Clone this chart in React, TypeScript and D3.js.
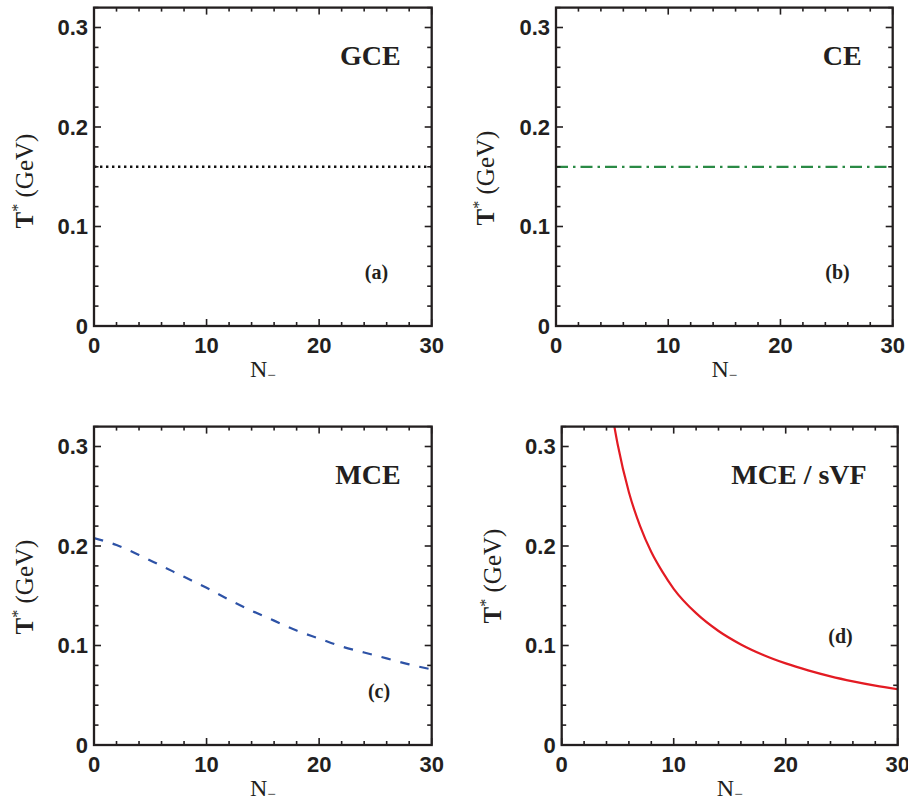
import React from "react";
import * as d3 from "d3";

// ---- data ----
const xTickValues = [0, 10, 20, 30];
const yTickValues = [0, 0.1, 0.2, 0.3];
const xTickLabels = ["0", "10", "20", "30"];
const yTickLabels = ["0", "0.1", "0.2", "0.3"];

const nGCE = [0, 30];
const tGCE = [0.16, 0.16];

const nCE = [0, 30];
const tCE = [0.16, 0.16];

const nMCE = [0, 2, 4, 6, 8, 10, 12, 14, 16, 18, 20, 22, 24, 26, 28, 30];
const tMCE = [0.208, 0.201, 0.191, 0.18, 0.169, 0.158, 0.146, 0.135, 0.125, 0.115, 0.107, 0.099, 0.093, 0.087, 0.081, 0.076];

const nSVF = [4.5, 5, 6, 7, 8, 9, 10, 12, 14, 16, 18, 20, 22, 24, 26, 28, 30];
const tSVF = [0.333, 0.302, 0.254, 0.22, 0.194, 0.174, 0.157, 0.1325, 0.1146, 0.1011, 0.0905, 0.082, 0.075, 0.069, 0.064, 0.0597, 0.056];

const titles = ["GCE", "CE", "MCE", "MCE / sVF"];
const tags = ["(a)", "(b)", "(c)", "(d)"];

type PanelCfg = {
  id: string;
  left: number;
  right: number;
  top: number;
  bottom: number;
  title: string;
  tag: string;
  tagX: number;
  tagY: number;
  ylabX: number;
  ylabY: number;
  xs: number[];
  ys: number[];
  color: string;
  dash: string;
  width: number;
  cap: string;
};

const FRAME = "#231f20";

function Panel({ c }: { c: PanelCfg }) {
  const x = d3.scaleLinear().domain([0, 30]).range([c.left, c.right]);
  const y = d3.scaleLinear().domain([0, 0.32]).range([c.bottom, c.top]);
  const pts = c.xs.map((v, i) => [v, c.ys[i]] as [number, number]);
  const line = d3
    .line<[number, number]>()
    .x((d) => x(d[0]))
    .y((d) => y(d[1]))
    .curve(d3.curveMonotoneX);
  const xMinor = d3.range(0, 30.001, 2);
  const yMinor = d3.range(0, 0.3201, 0.02);
  const isMajX = (v: number) => Math.round(v) % 10 === 0;
  const isMajY = (v: number) => Math.round(v * 100) % 10 === 0;
  const midX = (c.left + c.right) / 2;
  return (
    <g>
      <defs>
        <clipPath id={"clip-" + c.id}>
          <rect x={c.left} y={c.top} width={c.right - c.left} height={c.bottom - c.top} />
        </clipPath>
      </defs>
      <path
        d={line(pts) || ""}
        fill="none"
        stroke={c.color}
        strokeWidth={c.width}
        strokeDasharray={c.dash}
        strokeLinecap={c.cap as any}
        clipPath={`url(#clip-${c.id})`}
      />
      {/* ticks */}
      {xMinor.map((v, i) => {
        const L = isMajX(v) ? 7 : 4;
        return (
          <g key={"xt" + i}>
            <line x1={x(v)} x2={x(v)} y1={c.bottom} y2={c.bottom - L} stroke={FRAME} strokeWidth={1.6} />
            <line x1={x(v)} x2={x(v)} y1={c.top} y2={c.top + L} stroke={FRAME} strokeWidth={1.6} />
          </g>
        );
      })}
      {yMinor.map((v, i) => {
        const L = isMajY(v) ? 7 : 4.5;
        return (
          <g key={"yt" + i}>
            <line x1={c.left} x2={c.left + L} y1={y(v)} y2={y(v)} stroke={FRAME} strokeWidth={1.6} />
            <line x1={c.right} x2={c.right - L} y1={y(v)} y2={y(v)} stroke={FRAME} strokeWidth={1.6} />
          </g>
        );
      })}
      <rect
        x={c.left}
        y={c.top}
        width={c.right - c.left}
        height={c.bottom - c.top}
        fill="none"
        stroke={FRAME}
        strokeWidth={2.3}
      />
      {/* tick labels */}
      {xTickValues.map((v, i) => (
        <text
          key={"xl" + i}
          x={x(v)}
          y={c.bottom + 27}
          textAnchor="middle"
          fontFamily="'Liberation Sans', Arial, sans-serif"
          fontWeight="bold"
          fontSize={22}
          fill={FRAME}
        >
          {xTickLabels[i]}
        </text>
      ))}
      {yTickValues.map((v, i) => (
        <text
          key={"yl" + i}
          x={c.left - 6}
          y={y(v)}
          dy="0.36em"
          textAnchor="end"
          fontFamily="'Liberation Sans', Arial, sans-serif"
          fontWeight="bold"
          fontSize={22}
          fill={FRAME}
        >
          {yTickLabels[i]}
        </text>
      ))}
      {/* axis titles */}
      <text
        x={midX}
        y={c.bottom + 51}
        textAnchor="middle"
        fontFamily="'Liberation Serif', 'Times New Roman', serif"
        fontSize={24}
        fill={FRAME}
      >
        N
        <tspan dy={3} fontSize={15}>
          −
        </tspan>
      </text>
      <text
        transform={`translate(${c.ylabX},${c.ylabY}) rotate(-90)`}
        textAnchor="middle"
        fontFamily="'Liberation Serif', 'Times New Roman', serif"
        fontSize={25}
        fill={FRAME}
      >
        <tspan fontWeight="bold">T</tspan>
        <tspan dy={-10} fontSize={16}>
          *
        </tspan>
        <tspan dy={10}> (GeV)</tspan>
      </text>
      {/* panel title */}
      <text
        x={c.right - 31}
        y={c.top + 57.5}
        textAnchor="end"
        fontFamily="'Liberation Serif', 'Times New Roman', serif"
        fontWeight="bold"
        fontSize={28}
        fill={FRAME}
      >
        {c.title}
      </text>
      <text
        x={c.tagX}
        y={c.tagY}
        textAnchor="middle"
        fontFamily="'Liberation Serif', 'Times New Roman', serif"
        fontWeight="bold"
        fontSize={20}
        fill={FRAME}
      >
        {c.tag}
      </text>
    </g>
  );
}

export default function App() {
  const panels: PanelCfg[] = [
    {
      id: "a", left: 94, right: 431.7, top: 7.6, bottom: 326,
      title: titles[0], tag: tags[0], tagX: 376.5, tagY: 279,
      ylabX: 33, ylabY: 181,
      xs: nGCE, ys: tGCE, color: "#111111", dash: "2.4,3.6", width: 2.5, cap: "butt",
    },
    {
      id: "b", left: 556, right: 892.7, top: 7.6, bottom: 326,
      title: titles[1], tag: tags[1], tagX: 837.5, tagY: 279,
      ylabX: 494, ylabY: 178,
      xs: nCE, ys: tCE, color: "#2a8a45", dash: "12,5,2.5,5", width: 2.2, cap: "butt",
    },
    {
      id: "c", left: 94, right: 431.7, top: 426.6, bottom: 745,
      title: titles[2], tag: tags[2], tagX: 379, tagY: 698,
      ylabX: 33, ylabY: 587,
      xs: nMCE, ys: tMCE, color: "#2d52a6", dash: "9.5,10", width: 2.2, cap: "butt",
    },
    {
      id: "d", left: 561.7, right: 897.7, top: 426.6, bottom: 745,
      title: titles[3], tag: tags[3], tagX: 840.5, tagY: 643,
      ylabX: 501, ylabY: 576,
      xs: nSVF, ys: tSVF, color: "#e31b23", dash: "none", width: 2.2, cap: "butt",
    },
  ];
  return (
    <svg
      width={908}
      height={802}
      style={{ position: "absolute", left: 0, top: 0, background: "#ffffff" }}
    >
      <rect x={0} y={0} width={908} height={802} fill="#ffffff" />
      {panels.map((p) => (
        <Panel key={p.id} c={p} />
      ))}
    </svg>
  );
}
